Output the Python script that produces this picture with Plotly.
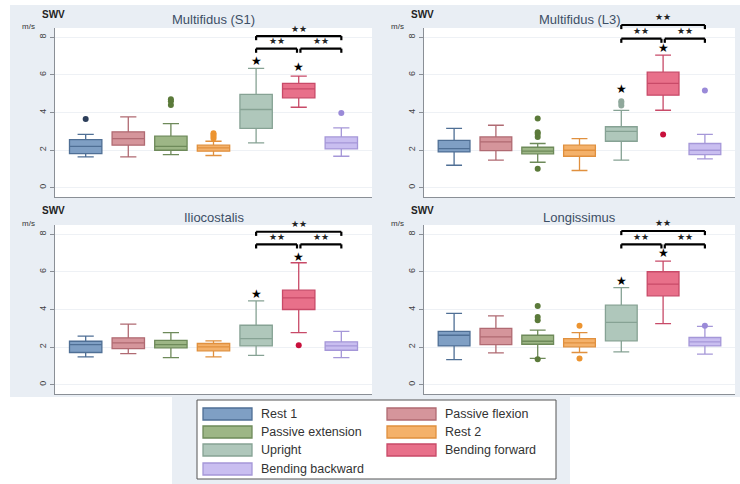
import plotly.graph_objects as go

# categories / groups
categories = ["Rest 1", "Passive flexion", "Passive extension", "Rest 2",
              "Upright", "Bending forward", "Bending backward"]
muscles = ["Multifidus (S1)", "Multifidus (L3)", "Iliocostalis", "Longissimus"]

fills = ["#7f9fc4", "#d5959b", "#9db686", "#f4b16a", "#afc7bb", "#e8708a", "#c9bef0"]
edges = ["#4f6f95", "#b06a72", "#6e8a5a", "#e0903e", "#86a294", "#c84a68", "#a597d8"]
dots = ["#2c3e5a", "#b06a72", "#5b7a3a", "#ec9430", "#8fa89b", "#c8103c", "#9a8ad8"]

# Multifidus (S1)
s1_low = [1.64, 1.64, 1.76, 1.71, 2.38, 4.28, 1.67]
s1_q1 = [1.81, 2.26, 1.99, 1.94, 3.15, 4.78, 2.06]
s1_med = [2.20, 2.61, 2.20, 2.12, 4.16, 5.26, 2.38]
s1_q3 = [2.56, 2.97, 2.74, 2.26, 4.96, 5.55, 2.70]
s1_high = [2.83, 3.77, 3.41, 2.47, 6.35, 5.94, 3.18]
s1_out = [[3.66], [], [4.40, 4.60, 4.70], [2.62, 2.72, 2.82, 2.90], [], [], [3.98]]
s1_star = [None, None, None, None, 6.74, 6.40, None]
s1_brk = [7.40, 8.07]

# Multifidus (L3)
l3_low = [1.19, 1.46, 1.35, 0.91, 1.46, 4.12, 1.53]
l3_q1 = [1.90, 1.97, 1.80, 1.67, 2.47, 4.92, 1.76]
l3_med = [2.08, 2.44, 1.94, 1.99, 3.00, 5.55, 1.99]
l3_q3 = [2.52, 2.70, 2.15, 2.26, 3.24, 6.15, 2.35]
l3_high = [3.15, 3.32, 2.35, 2.61, 4.11, 7.06, 2.83]
l3_out = [[], [], [1.01, 2.70, 2.85, 2.95, 3.68], [], [4.37, 4.50, 4.60], [2.83], [5.17]]
l3_star = [None, None, None, None, 5.23, 7.45, None]
l3_brk = [7.93, 8.66]

# Iliocostalis
il_low = [1.48, 1.65, 1.44, 1.48, 1.56, 2.77, 1.44]
il_q1 = [1.71, 1.92, 1.96, 1.80, 2.06, 4.00, 1.83]
il_med = [2.13, 2.22, 2.13, 2.01, 2.45, 4.62, 2.06]
il_q3 = [2.31, 2.49, 2.36, 2.19, 3.16, 5.03, 2.28]
il_high = [2.58, 3.22, 2.77, 2.33, 4.46, 6.49, 2.84]
il_out = [[], [], [], [], [], [2.10], []]
il_star = [None, None, None, None, 4.80, 6.81, None]
il_brk = [7.47, 8.14]

# Longissimus
lo_low = [1.33, 1.69, 1.40, 1.71, 1.74, 3.25, 1.62]
lo_q1 = [2.06, 2.13, 2.15, 2.01, 2.33, 4.73, 2.06]
lo_med = [2.63, 2.54, 2.31, 2.22, 3.31, 5.35, 2.28]
lo_q3 = [2.84, 2.99, 2.63, 2.45, 4.23, 6.01, 2.51]
lo_high = [3.79, 3.66, 2.90, 2.77, 5.17, 6.58, 3.10]
lo_out = [[], [], [1.35, 3.43, 3.60, 4.18], [1.39, 3.13], [], [], [3.14]]
lo_star = [None, None, None, None, 5.51, 6.99, None]
lo_brk = [7.47, 8.18]

panels = [
    (s1_low, s1_q1, s1_med, s1_q3, s1_high, s1_out, s1_star, s1_brk),
    (l3_low, l3_q1, l3_med, l3_q3, l3_high, l3_out, l3_star, l3_brk),
    (il_low, il_q1, il_med, il_q3, il_high, il_out, il_star, il_brk),
    (lo_low, lo_q1, lo_med, lo_q3, lo_high, lo_out, lo_star, lo_brk),
]

W, H = 740, 484
Y0, Y1 = -0.5, 8.5
X0, X1 = -0.72, 6.72
boxes_px = [(55, 372, 28, 197), (424, 735, 28, 197), (55, 372, 225, 394), (424, 735, 225, 394)]
FONT = "Liberation Sans, Arial, sans-serif"


def fx(px):
    return px / W


def fy(py):
    return 1 - py / H


def yd(v):
    return (v - Y0) / (Y1 - Y0)


fig = go.Figure()
shapes = []
annotations = []

# panel background
shapes.append(dict(type="rect", xref="paper", yref="paper", x0=fx(10), x1=1, y0=fy(397), y1=fy(5),
                   fillcolor="#e9eef4", line=dict(width=0), layer="below"))
shapes.append(dict(type="rect", xref="paper", yref="paper", x0=fx(172), x1=fx(570), y0=0, y1=fy(397),
                   fillcolor="#e9eef4", line=dict(width=0), layer="below"))

for p, (low, q1, med, q3, high, outs, stars, brk) in enumerate(panels):
    sfx = "" if p == 0 else str(p + 1)
    xa, ya = "x" + sfx, "y" + sfx
    l, r, t, b = boxes_px[p]

    shapes.append(dict(type="rect", xref=xa + " domain", yref=ya + " domain", x0=0, x1=1, y0=0, y1=1,
                       fillcolor="white", line=dict(width=0), layer="below"))

    for i, cat in enumerate(categories):
        fig.add_trace(go.Box(
            x=[i], q1=[q1[i]], median=[med[i]], q3=[q3[i]],
            lowerfence=[low[i]], upperfence=[high[i]],
            width=0.76, whiskerwidth=0.5, boxpoints=False,
            fillcolor=fills[i], line=dict(color=edges[i], width=1.3),
            name=cat, showlegend=False, xaxis=xa, yaxis=ya, hoverinfo="skip"))
        if outs[i]:
            fig.add_trace(go.Scatter(
                x=[i] * len(outs[i]), y=outs[i], mode="markers",
                marker=dict(size=6, color=dots[i]), showlegend=False,
                xaxis=xa, yaxis=ya, hoverinfo="skip"))
        if stars[i] is not None:
            annotations.append(dict(xref=xa, yref=ya + " domain", x=i, y=yd(stars[i]),
                                    text="★", showarrow=False, yanchor="middle",
                                    font=dict(size=12, color="black", family="DejaVu Sans")))

    # significance brackets: Upright / Bending forward / Bending backward
    a, m, c = 4, 5, 6
    tip = 0.22
    lo_b, hi_b = brk
    segs = [(a, m - 0.04, lo_b), (m + 0.04, c, lo_b), (a, c, hi_b)]
    for x_a, x_b, h in segs:
        for (xx0, yy0, xx1, yy1) in [(x_a, h, x_b, h), (x_a, h - tip, x_a, h), (x_b, h - tip, x_b, h)]:
            shapes.append(dict(type="line", xref=xa, yref=ya + " domain",
                               x0=xx0, x1=xx1, y0=yd(yy0), y1=yd(yy1),
                               line=dict(color="black", width=2.2), layer="above"))
        annotations.append(dict(xref=xa, yref=ya + " domain", x=(x_a + x_b) / 2, y=yd(h + 0.03),
                                text="★★", showarrow=False, yanchor="bottom",
                                font=dict(size=9, color="#222", family="DejaVu Sans")))

    # titles and unit labels
    annotations.append(dict(xref="paper", yref="paper", x=fx((l + r) / 2), y=fy(t - 8),
                            text=muscles[p], showarrow=False, xanchor="center", yanchor="middle",
                            font=dict(size=13, color="#3d4f66", family=FONT)))
    annotations.append(dict(xref="paper", yref="paper", x=fx(l - 15), y=fy(t - 14),
                            text="<b>SWV</b>", showarrow=False, xanchor="left", yanchor="middle",
                            font=dict(size=10, color="#222", family=FONT)))
    annotations.append(dict(xref="paper", yref="paper", x=fx(l - 18), y=fy(t - 2),
                            text="m/s", showarrow=False, xanchor="right", yanchor="middle",
                            font=dict(size=8, color="#333", family=FONT)))

    fig.layout["xaxis" + sfx] = dict(domain=[fx(l), fx(r)], range=[X0, X1], anchor=ya,
                                     showticklabels=False, showgrid=False, zeroline=False,
                                     showline=True, linecolor="#8a8f96", linewidth=1, ticks="")
    fig.layout["yaxis" + sfx] = dict(domain=[fy(b), fy(t)], range=[Y0, Y1], anchor=xa,
                                     tickvals=[0, 2, 4, 6, 8], tickangle=-90,
                                     ticks="outside", ticklen=4, tickcolor="#8a8f96",
                                     tickfont=dict(size=9, color="#444", family=FONT),
                                     showgrid=True, gridcolor="#eef1f5", zeroline=False,
                                     showline=True, linecolor="#8a8f96", linewidth=1)

# legend drawn as a boxed key
shapes.append(dict(type="rect", xref="paper", yref="paper", x0=fx(197), x1=fx(556), y0=fy(479), y1=fy(400),
                   fillcolor="white", line=dict(color="#555", width=1), layer="below"))
col_x = [203, 387]
row_y = [414, 432, 450, 469]
for i, cat in enumerate(categories):
    cx = col_x[i % 2]
    ry = row_y[i // 2]
    shapes.append(dict(type="rect", xref="paper", yref="paper", x0=fx(cx), x1=fx(cx + 49),
                       y0=fy(ry + 6), y1=fy(ry - 6), fillcolor=fills[i],
                       line=dict(color=edges[i], width=1.3), layer="above"))
    annotations.append(dict(xref="paper", yref="paper", x=fx(cx + 56), y=fy(ry), text=cat,
                            showarrow=False, xanchor="left", yanchor="middle",
                            font=dict(size=12.5, color="#333", family=FONT)))

fig.update_layout(width=W, height=H, margin=dict(l=0, r=0, t=0, b=0),
                  paper_bgcolor="white", plot_bgcolor="white",
                  shapes=shapes, annotations=annotations, showlegend=False)

# drop the default page margin so the figure sits at the window's corner
fig.write_html("out.html", config={"displayModeBar": False},
               post_script="document.body.style.margin='0';")
